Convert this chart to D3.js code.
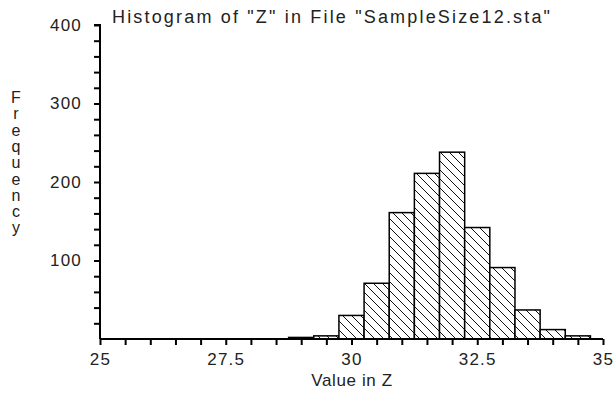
<!DOCTYPE html>
<html><head><meta charset="utf-8">
<script src="https://cdn.jsdelivr.net/npm/d3@7"></script>
<style>
body{margin:0;background:#fff}
text{font-family:"Liberation Sans",Arial,sans-serif;fill:#222}
</style></head><body>
<svg id="c" width="616" height="393"></svg>
<script>
const binCenters = [29.0, 29.5, 30.0, 30.5, 31.0, 31.5, 32.0, 32.5, 33.0, 33.5, 34.0, 34.5];
const frequencies = [2, 4, 30, 71, 161, 211, 238, 142, 91, 37, 12, 4];
const binWidth = 0.5;
const xTicks = [25, 27.5, 30, 32.5, 35];
const yTicks = [100, 200, 300, 400];
const titleText = 'Histogram of "Z" in File "SampleSize12.sta"';
const xLabel = "Value in Z";
const yLabel = "Frequency";

const svg = d3.select("#c");
const x = d3.scaleLinear().domain([25, 35]).range([100, 603]);
const y = d3.scaleLinear().domain([0, 400]).range([339, 25]);

const defs = svg.append("defs");
const pat = defs.append("pattern").attr("id","hatch").attr("patternUnits","userSpaceOnUse")
  .attr("width",9).attr("height",9);
pat.append("rect").attr("width",9).attr("height",9).attr("fill","#fff");
pat.append("path").attr("d","M-2,-2 L11,11 M-2,7 L2,11 M7,-2 L11,2").attr("stroke","#111").attr("stroke-width",1);

// bars
svg.append("g").selectAll("rect").data(binCenters).join("rect")
  .attr("x",(d)=>x(d-binWidth/2))
  .attr("y",(d,i)=>y(frequencies[i]))
  .attr("width",(d)=>x(d+binWidth/2)-x(d-binWidth/2))
  .attr("height",(d,i)=>y(0)-y(frequencies[i]))
  .attr("fill","url(#hatch)").attr("stroke","#000").attr("stroke-width",1.5);

// y axis
const yAxis = d3.axisLeft(y).tickValues(d3.range(20,401,20)).tickSize(6)
  .tickFormat(d=> yTicks.includes(d) ? d : "");
const gy = svg.append("g").attr("transform","translate(100,0)").call(yAxis);
gy.select(".domain").attr("stroke","#000").attr("stroke-width",2).attr("d","M0,339V25H-6");
gy.selectAll(".tick line").attr("stroke","#000").attr("stroke-width",2);
gy.selectAll(".tick text").attr("x",-18).style("font-size","17px").attr("letter-spacing","1.2px").attr("fill","#222");

// x axis
const xAxis = d3.axisBottom(x).tickValues(d3.range(25,35.01,0.5)).tickSize(6)
  .tickFormat(d=> xTicks.includes(d) ? d : "");
const gx = svg.append("g").attr("transform","translate(0,339)").call(xAxis);
gx.select(".domain").attr("stroke","#000").attr("stroke-width",2).attr("d","M100,0H603");
gx.selectAll(".tick line").attr("stroke","#000").attr("stroke-width",2);
gx.selectAll(".tick text").attr("y",14).style("font-size","17px").attr("letter-spacing","1.2px").attr("fill","#222");

// title
svg.append("text").attr("x",112).attr("y",23).style("font-size","18px")
  .attr("textLength",438).attr("lengthAdjust","spacing").text(titleText);
// x label
svg.append("text").attr("x",352).attr("y",386).attr("text-anchor","middle").style("font-size","17px")
  .attr("letter-spacing","0.6px").text(xLabel);
// y label stacked
const yl = svg.append("text").attr("text-anchor","middle").style("font-size","16px");
yLabel.split("").forEach((ch,i)=>{
  yl.append("tspan").attr("x",16).attr("y",103+i*16.3).text(ch);
});
</script></body></html>
